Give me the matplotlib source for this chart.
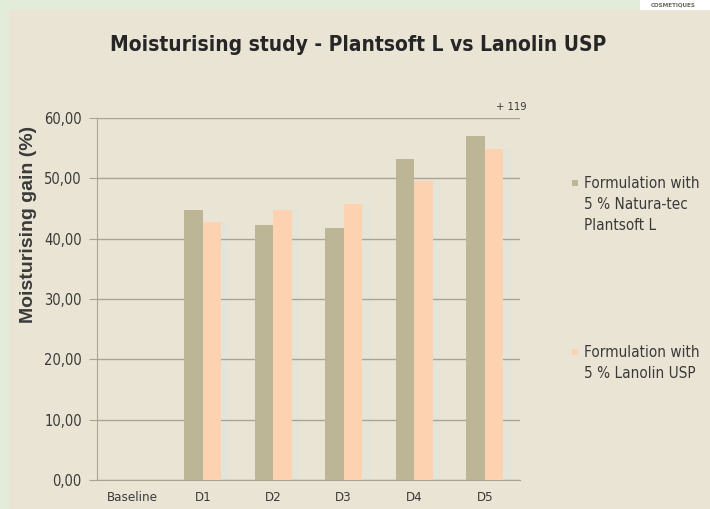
import numpy as np
import matplotlib
matplotlib.use("Agg")
import matplotlib.pyplot as plt
from matplotlib.patches import Rectangle

# data
categories = ["Baseline", "D1", "D2", "D3", "D4", "D5"]
plantsoft = [0.0, 44.7, 42.3, 41.8, 53.2, 57.0]
lanolin = [0.0, 42.8, 44.7, 45.8, 49.5, 54.8]
yticks = [0, 10, 20, 30, 40, 50, 60]
ytick_labels = ["0,00", "10,00", "20,00", "30,00", "40,00", "50,00", "60,00"]
series_labels = ["Formulation with\n5 % Natura-tec\nPlantsoft L",
                 "Formulation with\n5 % Lanolin USP"]
note = "+ 119"

BG = "#eae4d4"
OLIVE = "#bdb696"
PEACH = "#fcd2b1"
GRID = "#aaa493"
TXT = "#3a3a3a"
NARROW = dict(family="DejaVu Sans", stretch="condensed")

fig = plt.figure(figsize=(7.1, 5.09), dpi=100, facecolor=BG)

# pale dotted frame on the left and top
fig.patches.append(Rectangle((0, 0), 9 / 710, 1, transform=fig.transFigure,
                             facecolor="#e3ecd9", edgecolor="none", zorder=0))
fig.patches.append(Rectangle((0, 1 - 10 / 509), 1, 10 / 509, transform=fig.transFigure,
                             facecolor="#e3ecd9", edgecolor="none", zorder=0))
fig.patches.append(Rectangle((640 / 710, 1 - 10 / 509), 70 / 710, 10 / 509,
                             transform=fig.transFigure, facecolor="white",
                             edgecolor="none", zorder=1))
fig.text(673 / 710, 1 - 5 / 509, "COSMETIQUES", fontsize=4.5, color="#6a6a5a",
         fontweight="bold", ha="center", va="center", **NARROW)

ax = fig.add_axes([97 / 710, 1 - 480 / 509, 423 / 710, 362 / 509])
ax.set_facecolor(BG)

x = np.arange(len(categories))
w = 0.26
ax.bar(x - w / 2, plantsoft, w, color=OLIVE, zorder=3)
ax.bar(x + w / 2, lanolin, w, color=PEACH, zorder=3)
# faint light strip right of each peach bar (under the grid)
ax.bar(x + w + 0.06, lanolin, 0.12, color="#e5e4d9", zorder=0.5)

ax.set_xlim(-0.5, len(categories) - 0.5)
ax.set_ylim(0, 60)
ax.set_yticks(yticks)
ax.set_yticklabels(ytick_labels, fontsize=10.5, color=TXT, **NARROW)
ax.set_xticks(x)
ax.set_xticklabels(categories, fontsize=9.5, color=TXT, **NARROW)
ax.tick_params(axis="y", length=6, color=GRID, pad=5)
ax.tick_params(axis="x", length=0, pad=8)
ax.grid(axis="y", color=GRID, lw=1)
for s in ("top", "right"):
    ax.spines[s].set_visible(False)
for s in ("left", "bottom"):
    ax.spines[s].set_color(GRID)

ax.set_ylabel("Moisturising gain (%)", fontsize=14, fontweight="bold",
              color=TXT, family=["Liberation Sans", "DejaVu Sans"])
ax.yaxis.set_label_coords(-0.143, 0.705)

ax.text(5 + 0.37, 61.9, note, fontsize=8, color=TXT,
        ha="center", va="center", clip_on=False, **NARROW)

fig.text(0.505, 1 - 45 / 509, "Moisturising study - Plantsoft L vs Lanolin USP",
         fontsize=15, fontweight="bold", color="#262626",
         ha="center", va="center", **NARROW)

# legend drawn by hand so the markers sit on the first line
for lab, col, ytop in zip(series_labels, [OLIVE, PEACH], [176, 345]):
    fig.patches.append(Rectangle((572 / 710, 1 - (ytop + 10) / 509), 6 / 710, 6 / 509,
                                 transform=fig.transFigure, facecolor=col,
                                 edgecolor="none"))
    fig.text(584 / 710, 1 - ytop / 509, lab, fontsize=11,
             color=TXT, ha="left", va="top", linespacing=1.5, **NARROW)

fig.savefig("out.png", dpi=100, facecolor=BG)
